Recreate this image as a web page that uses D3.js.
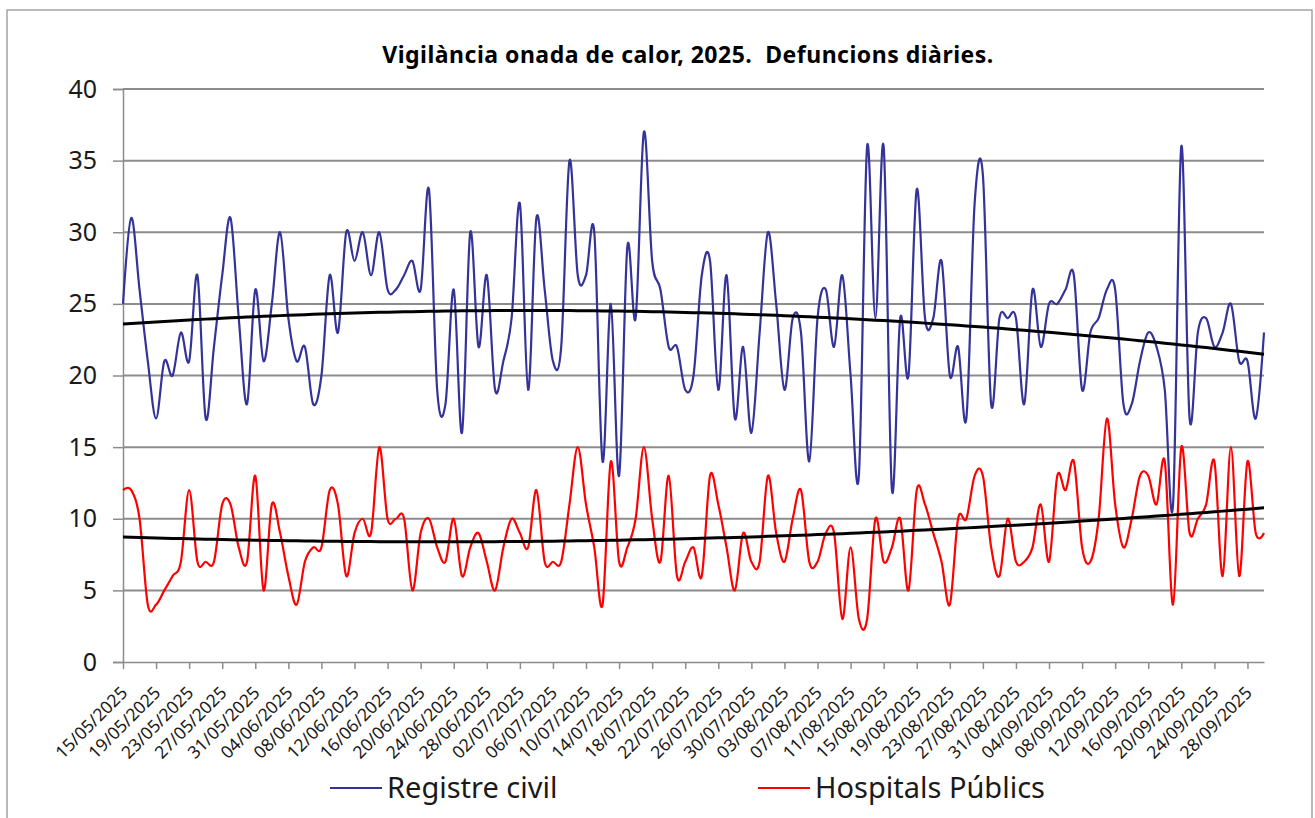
<!DOCTYPE html>
<html>
<head>
<meta charset="utf-8">
<script src="https://cdn.jsdelivr.net/npm/d3@7"></script>
<style>
    html, body { margin: 0; padding: 0; background: #fff; }
    svg { display: block; font-family: 'Noto Sans', 'Open Sans', sans-serif; }
</style>
</head>
<body>
<svg id="chart" width="1315" height="818"></svg>
<script>
// daily series, 15/05/2025 .. 30/09/2025
const startDate = '2025-05-15';
const endDate = '2025-09-30';

const registreCivil = [
    25, 31, 26, 21, 17, 21, 20, 23, 21, 27, 17, 22, 27, 31, 24, 18, 26, 21, 25, 30,
    24, 21, 22, 18, 20, 27, 23, 30, 28, 30, 27, 30, 26, 26, 27, 28, 26, 33, 19, 18,
    26, 16, 30, 22, 27, 19, 21, 24, 32, 19, 31, 26, 21, 22, 35, 27, 27, 30, 14, 25,
    13, 29, 24, 37, 28, 26, 22, 22, 19, 20, 27, 28, 19, 27, 17, 22, 16, 23, 30, 25,
    19, 24, 23, 14, 24, 26, 22, 27, 20, 13, 36, 24, 36, 12, 24, 20, 33, 24, 24, 28,
    20, 22, 17, 32, 34, 18, 24, 24, 24, 18, 26, 22, 25, 25, 26, 27, 19, 23, 24, 26,
    26, 18, 18, 21, 23, 22, 19, 11, 36, 17, 23, 24, 22, 23, 25, 21, 21, 17, 23
];

const hospitalsPublics = [
    12, 12, 10, 4, 4, 5, 6, 7, 12, 7, 7, 7, 11, 11, 8, 7, 13, 5, 11, 9,
    6, 4, 7, 8, 8, 12, 11, 6, 9, 10, 9, 15, 10, 10, 10, 5, 9, 10, 8, 7,
    10, 6, 8, 9, 7, 5, 8, 10, 9, 8, 12, 7, 7, 7, 11, 15, 11, 8, 4, 14,
    7, 8, 10, 15, 10, 7, 13, 6, 7, 8, 6, 13, 11, 8, 5, 9, 7, 7, 13, 9,
    7, 10, 12, 7, 7, 9, 9, 3, 8, 3, 3, 10, 7, 8, 10, 5, 12, 11, 9, 7,
    4, 10, 10, 13, 13, 8, 6, 10, 7, 7, 8, 11, 7, 13, 12, 14, 8, 7, 10, 17,
    11, 8, 10, 13, 13, 11, 14, 4, 15, 9, 10, 11, 14, 6, 15, 6, 14, 9, 9
];

const yTicks = [0, 5, 10, 15, 20, 25, 30, 35, 40];
const seriesNames = ['Registre civil', 'Hospitals Públics'];
const seriesColors = ['#333399', '#ff0000'];

const parse = d3.utcParse('%Y-%m-%d');
const dates = d3.utcDay.range(parse(startDate), d3.utcDay.offset(parse(endDate), 1));
const tickDates = dates.filter((d, i) => i % 4 === 0);

const margin = { left: 123, right: 51, top: 89, bottom: 156 };
const width = 1315, height = 818;

const svg = d3.select('#chart');

// outer frame
svg.append('rect')
    .attr('x', 7).attr('y', 10)
    .attr('width', 1305).attr('height', 830)
    .attr('fill', 'none')
    .attr('stroke', '#8c8c8c')
    .attr('stroke-width', 1.2);

const x = d3.scaleUtc()
    .domain([dates[0], dates[dates.length - 1]])
    .range([margin.left, width - margin.right]);

const y = d3.scaleLinear()
    .domain([0, 40])
    .range([height - margin.bottom, margin.top]);

// title
svg.append('text')
    .attr('x', 688).attr('y', 63)
    .attr('text-anchor', 'middle')
    .attr('font-size', 23)
    .attr('font-weight', 'bold')
    .attr('fill', '#000')
    .attr('letter-spacing', 0.5)
    .style('white-space', 'pre')
    .text('Vigilància onada de calor, 2025.  Defuncions diàries.');

// grid lines
svg.append('g')
    .selectAll('line')
    .data(yTicks.filter(d => d > 0))
    .join('line')
    .attr('x1', margin.left).attr('x2', width - margin.right)
    .attr('y1', d => y(d)).attr('y2', d => y(d))
    .attr('stroke', '#8c8c8c')
    .attr('stroke-width', 2);

// y axis
const yAxis = svg.append('g')
    .attr('transform', `translate(${margin.left},0)`)
    .call(d3.axisLeft(y).tickValues(yTicks).tickSize(10).tickPadding(16));
yAxis.select('.domain').attr('stroke', '#8c8c8c').attr('stroke-width', 1.5);
yAxis.selectAll('.tick line').attr('stroke', '#8c8c8c').attr('stroke-width', 1.5);
yAxis.selectAll('.tick text')
    .attr('font-size', 25)
    .attr('fill', '#1a1a1a')
    .attr('font-family', "'Noto Sans', sans-serif");

// x axis
const xAxis = svg.append('g')
    .attr('transform', `translate(0,${y(0)})`)
    .call(d3.axisBottom(x).tickValues(tickDates).tickFormat(d3.utcFormat('%d/%m/%Y')).tickSizeInner(7).tickSizeOuter(0));
xAxis.select('.domain').attr('stroke', '#8c8c8c').attr('stroke-width', 1.5);
xAxis.selectAll('.tick line').attr('stroke', '#8c8c8c').attr('stroke-width', 1.5);
xAxis.selectAll('.tick text')
    .attr('font-size', 17.5)
    .attr('fill', '#1a1a1a')
    .attr('font-family', "'Noto Sans', sans-serif")
    .attr('text-anchor', 'end')
    .attr('x', 0)
    .attr('y', 0)
    .attr('dy', 0)
    .attr('transform', 'translate(5,32) rotate(-45)');

// smoothed series lines (Excel-like smoothing)
const line = d3.line()
    .x((d, i) => x(dates[i]))
    .y(d => y(d))
    .curve(d3.curveCardinal.tension(0));

[registreCivil, hospitalsPublics].forEach((values, k) => {
    svg.append('path')
        .datum(values)
        .attr('d', line)
        .attr('fill', 'none')
        .attr('stroke', seriesColors[k])
        .attr('stroke-width', 2.2);
});

// polynomial (order 2) trendlines
function polyFit2(values) {
    let s = [0, 0, 0, 0, 0], t = [0, 0, 0];
    values.forEach((v, i) => {
        const xi = i + 1;
        for (let p = 0; p <= 4; p++) s[p] += Math.pow(xi, p);
        for (let p = 0; p <= 2; p++) t[p] += v * Math.pow(xi, p);
    });
    const A = [[s[0], s[1], s[2]], [s[1], s[2], s[3]], [s[2], s[3], s[4]]];
    const b = t.slice();
    // gaussian elimination
    for (let c = 0; c < 3; c++) {
        for (let r = c + 1; r < 3; r++) {
            const f = A[r][c] / A[c][c];
            for (let k = c; k < 3; k++) A[r][k] -= f * A[c][k];
            b[r] -= f * b[c];
        }
    }
    const coef = [0, 0, 0];
    for (let r = 2; r >= 0; r--) {
        let sum = b[r];
        for (let k = r + 1; k < 3; k++) sum -= A[r][k] * coef[k];
        coef[r] = sum / A[r][r];
    }
    return values.map((v, i) => coef[0] + coef[1] * (i + 1) + coef[2] * (i + 1) * (i + 1));
}

const trendLine = d3.line()
    .x((d, i) => x(dates[i]))
    .y(d => y(d));

[registreCivil, hospitalsPublics].forEach(values => {
    svg.append('path')
        .datum(polyFit2(values))
        .attr('d', trendLine)
        .attr('fill', 'none')
        .attr('stroke', '#000')
        .attr('stroke-width', 3);
});

// legend
const legendX = [330, 758];
const legend = svg.append('g')
    .selectAll('g')
    .data(seriesNames)
    .join('g')
    .attr('transform', (d, i) => `translate(${legendX[i]},788)`);

legend.append('line')
    .attr('x1', 0).attr('x2', 52)
    .attr('stroke', (d, i) => seriesColors[i])
    .attr('stroke-width', 2.2);

legend.append('text')
    .attr('x', 57)
    .attr('dy', '0.35em')
    .attr('font-size', 29)
    .attr('fill', '#1a1a1a')
    .text(d => d);
</script>
</body>
</html>
